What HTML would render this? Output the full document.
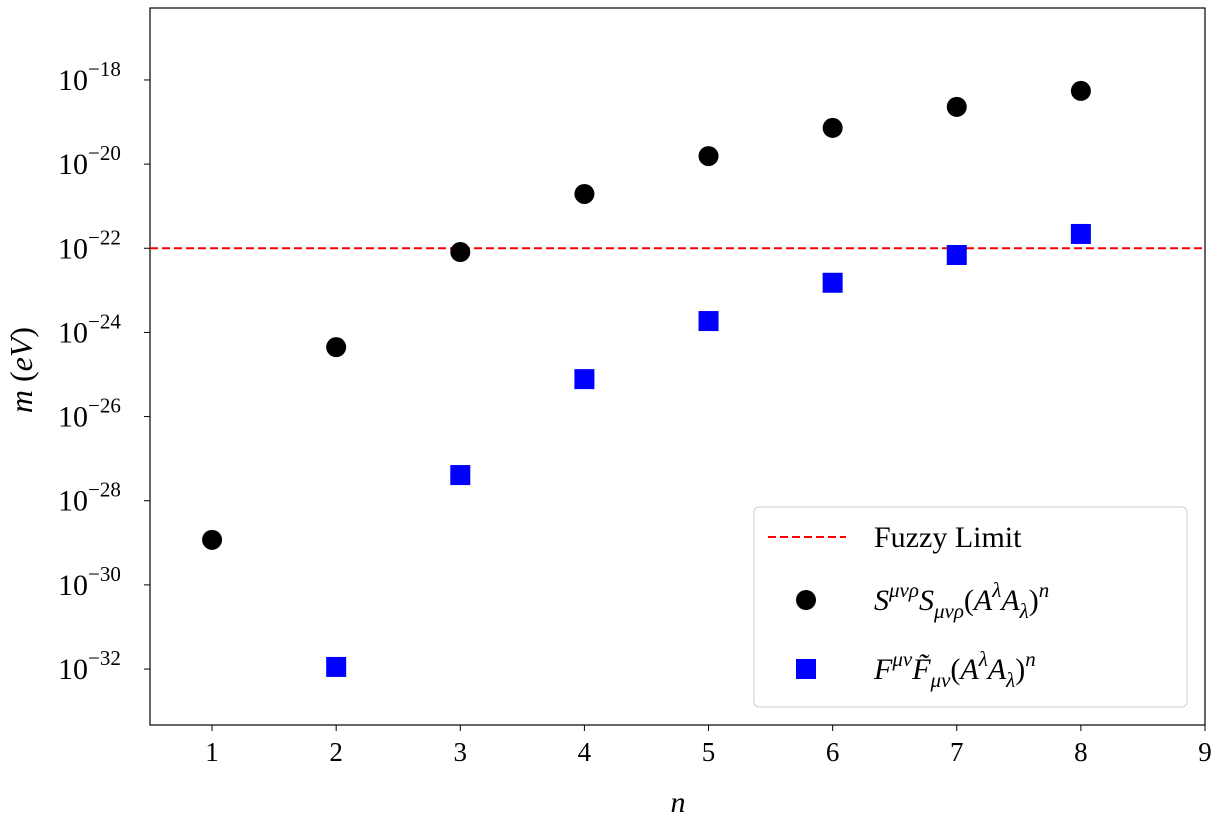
<!DOCTYPE html>
<html><head><meta charset="utf-8"><style>
body{margin:0;background:#fff;}
svg text{font-family:"Liberation Serif","DejaVu Serif",serif;fill:#000;}
</style></head><body>
<svg id="c" width="1213" height="828" xmlns="http://www.w3.org/2000/svg"></svg>
<script>
const nS=[1,2,3,4,5,6,7,8];
const logS=[-28.93,-24.35,-22.09,-20.71,-19.81,-19.14,-18.64,-18.26];
const nF=[2,3,4,5,6,7,8];
const logF=[-31.95,-27.39,-25.11,-23.73,-22.82,-22.16,-21.66];
const fuzzyLog=-22;
const xTicks=[1,2,3,4,5,6,7,8,9];
const yTicks=[-18,-20,-22,-24,-26,-28,-30,-32];
const L=150,R=1205,T=8,B=725;
const xMin=0.5,xMax=9,yMin=-33.33,yMax=-16.29;
const X=v=>L+(v-xMin)/(xMax-xMin)*(R-L);
const Y=v=>B-(v-yMin)/(yMax-yMin)*(B-T);
const svg=document.getElementById('c');const NS='http://www.w3.org/2000/svg';
function mk(t,a,p){const e=document.createElementNS(NS,t);for(const k in a)e.setAttribute(k,a[k]);(p||svg).appendChild(e);return e;}
let e=mk('rect',{x:L,y:T,width:R-L,height:B-T,fill:'none',stroke:'#000','stroke-width':1.2});


xTicks.forEach(v=>{mk('line',{x1:X(v),x2:X(v),y1:B,y2:B+6,stroke:'#000'});
const t=mk('text',{x:X(v),y:B+36,'text-anchor':'middle','font-size':27});t.textContent=v;

});
yTicks.forEach(v=>{mk('line',{x1:L-6,x2:L,y1:Y(v),y2:Y(v),stroke:'#000'});
const t=mk('text',{x:58,y:Y(v)+10,'font-size':30});t.innerHTML='10<tspan dy="-14" font-size="21">\u2212'+(-v)+'</tspan>';

});
e=mk('text',{x:678,y:812,'text-anchor':'middle','font-size':30,'font-style':'italic'});e.textContent='n';


e=mk('text',{x:0,y:0,'text-anchor':'middle','font-size':32,transform:'translate(32,370) rotate(-90)'});e.innerHTML='<tspan font-style="italic">m</tspan> (<tspan font-style="italic">eV</tspan>)';


e=mk('line',{x1:L,x2:R,y1:Y(fuzzyLog),y2:Y(fuzzyLog),stroke:'#f00','stroke-width':2,'stroke-dasharray':'8,4'});


nS.forEach((n,i)=>{const c=mk('circle',{cx:X(n),cy:Y(logS[i]),r:10,fill:'#000'});

});
nF.forEach((n,i)=>{const r=mk('rect',{x:X(n)-10,y:Y(logF[i])-10,width:20,height:20,fill:'#00f'});

});
const g=mk('g',{});


mk('rect',{x:754,y:507,width:433,height:200,rx:5,fill:'#fff',stroke:'#ccc'},g);
mk('line',{x1:768,x2:846,y1:537,y2:537,stroke:'#f00','stroke-width':2,'stroke-dasharray':'8,4'},g);
let t=mk('text',{x:874,y:547,'font-size':30},g);t.textContent='Fuzzy Limit';
mk('circle',{cx:806,cy:600,r:10,fill:'#000'},g);
t=mk('text',{x:874,y:610,'font-size':30,'font-style':'italic'},g);
t.innerHTML='S<tspan dy="-13" font-size="21">μνρ</tspan><tspan dy="13">S</tspan><tspan dy="8" font-size="21">μνρ</tspan><tspan dy="-8" font-style="normal">(</tspan>A<tspan dy="-13" font-size="21">λ</tspan><tspan dy="13">A</tspan><tspan dy="8" font-size="21">λ</tspan><tspan dy="-8" font-style="normal">)</tspan><tspan dy="-13" font-size="21">n</tspan>';
mk('rect',{x:796,y:659,width:20,height:20,fill:'#00f'},g);
t=mk('text',{x:874,y:679,'font-size':30,'font-style':'italic'},g);
t.innerHTML='F<tspan dy="-13" font-size="21">μν</tspan><tspan dy="13">F̃</tspan><tspan dy="8" font-size="21">μν</tspan><tspan dy="-8" font-style="normal">(</tspan>A<tspan dy="-13" font-size="21">λ</tspan><tspan dy="13">A</tspan><tspan dy="8" font-size="21">λ</tspan><tspan dy="-8" font-style="normal">)</tspan><tspan dy="-13" font-size="21">n</tspan>';
</script>
</body></html>
